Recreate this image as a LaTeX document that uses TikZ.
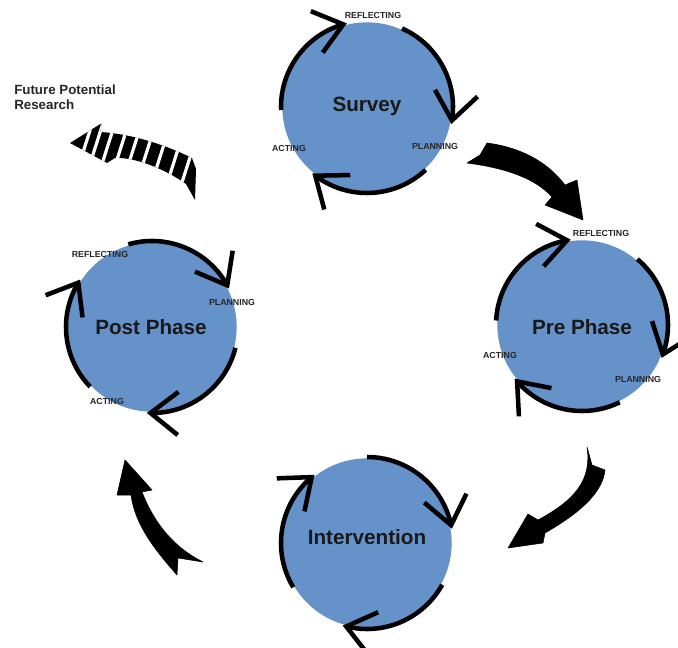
\documentclass[tikz,border=0pt]{standalone}
\usepackage{fontspec}
\setmainfont{Liberation Sans}
\usetikzlibrary{calc}
\definecolor{phaseblue}{RGB}{102,146,202}
\tikzset{
  phase/.style={circle,fill=phaseblue,minimum size=127pt,inner sep=0pt},
  ring/.style={line width=3.4pt,black,line cap=butt,line join=miter},
  title/.style={font=\bfseries\fontsize{15.5}{18}\selectfont,text=black!90},
  lab/.style={font=\bfseries\fontsize{6.6}{8}\selectfont,text=black!85,inner sep=1pt},
  bigarrow/.style={fill=black,draw=black,line width=0.4pt,line join=round},
  stripe/.style={white,line width=2.4pt}
}
\newcommand\cyclearc[3]{%
  \draw[ring] ($(#1)+(#2:86)$) arc[start angle=#2, end angle=#3, radius=86];
  \draw[ring] ($(#1)+(#3:86)+(#3+128:35)$) -- ($(#1)+(#3:86)$) -- ($(#1)+(#3:86)+(#3+52:35)$);
}
\begin{document}
\begin{tikzpicture}[x=0.75pt,y=0.75pt]
\useasboundingbox (0,0) rectangle (678,647);
\fill[white] (0,0) rectangle (678,647);

% phase circles
\node[phase] (survey) at (367,540) {};
\node[phase] (pre) at (582,322) {};
\node[phase] (inter) at (367,104) {};
\node[phase] (post) at (152,320) {};

\node[title] (surveyt) at (367,541) {Survey};
\node[title] (pret) at (582,320) {Pre Phase};
\node[title] (intert) at (367,110) {Intervention};
\node[title] (postt) at (151,320) {Post Phase};

% cycle arcs
\cyclearc{survey}{182}{106}
\cyclearc{survey}{66}{-9}
\cyclearc{survey}{-47}{-127}

\cyclearc{pre}{177}{100}
\cyclearc{pre}{50}{-20}
\cyclearc{pre}{-64}{-139}

\cyclearc{inter}{211}{130}
\cyclearc{inter}{90}{12}
\cyclearc{inter}{-29}{-104}

\cyclearc{post}{224}{149}
\cyclearc{post}{106}{29}
\cyclearc{post}{-14}{-91}

% cycle labels
\node[lab] (sr) at (373,632) {REFLECTING};
\node[lab] (sp) at (435,501) {PLANNING};
\node[lab] (sa) at (289,499) {ACTING};
\node[lab] (pr) at (601,414) {REFLECTING};
\node[lab] (pa) at (500,292) {ACTING};
\node[lab] (pp) at (638,268) {PLANNING};
\node[lab] (qr) at (100,393) {REFLECTING};
\node[lab] (qp) at (232,345) {PLANNING};
\node[lab] (qa) at (107,246) {ACTING};

% big curved arrows between phases
\path[bigarrow] (487,504) .. controls (525,499) and (550,482) .. (565,462)
  -- (577,467) -- (583,427) -- (545,442) -- (552,450)
  .. controls (535,469) and (505,479) .. (467,484) -- (480,492) -- cycle;

\path[bigarrow] (587,200) .. controls (592,167) and (575,147) .. (538,127)
  -- (528,133) -- (508,99) -- (543,104) -- (545,114)
  .. controls (585,137) and (603,157) .. (605,177) -- (592,182) -- cycle;

\path[bigarrow] (125,187) -- (152,157) -- (142,155)
  .. controls (155,122) and (175,99) .. (203,85) -- (178,89) -- (177,72)
  .. controls (155,97) and (135,122) .. (131,152) -- (117,152) -- cycle;

% future potential research arrow
\node[anchor=north west,align=left,inner sep=0pt,
  font=\bfseries\fontsize{10}{10.6}\selectfont,text=black!85] (future) at (14,562)
  {Future Potential\\Research};
\begin{scope}
\clip (70,504) -- (102,524) -- (100,515)
  .. controls (135,513) and (170,500) .. (192,489) -- (196,478) -- (195,447)
  -- (186,463) .. controls (165,478) and (135,490) .. (115,489) -- (107,484) -- cycle;
\fill[black] (60,440) rectangle (210,530);
\foreach \x/\y in {86/504,97/505,109/505,122/503,134/500,147/496,160/490,173/482,185/474}
  \draw[stripe] (\x-7,\y-22) -- (\x+7,\y+22);
\end{scope}
\end{tikzpicture}
\end{document}
